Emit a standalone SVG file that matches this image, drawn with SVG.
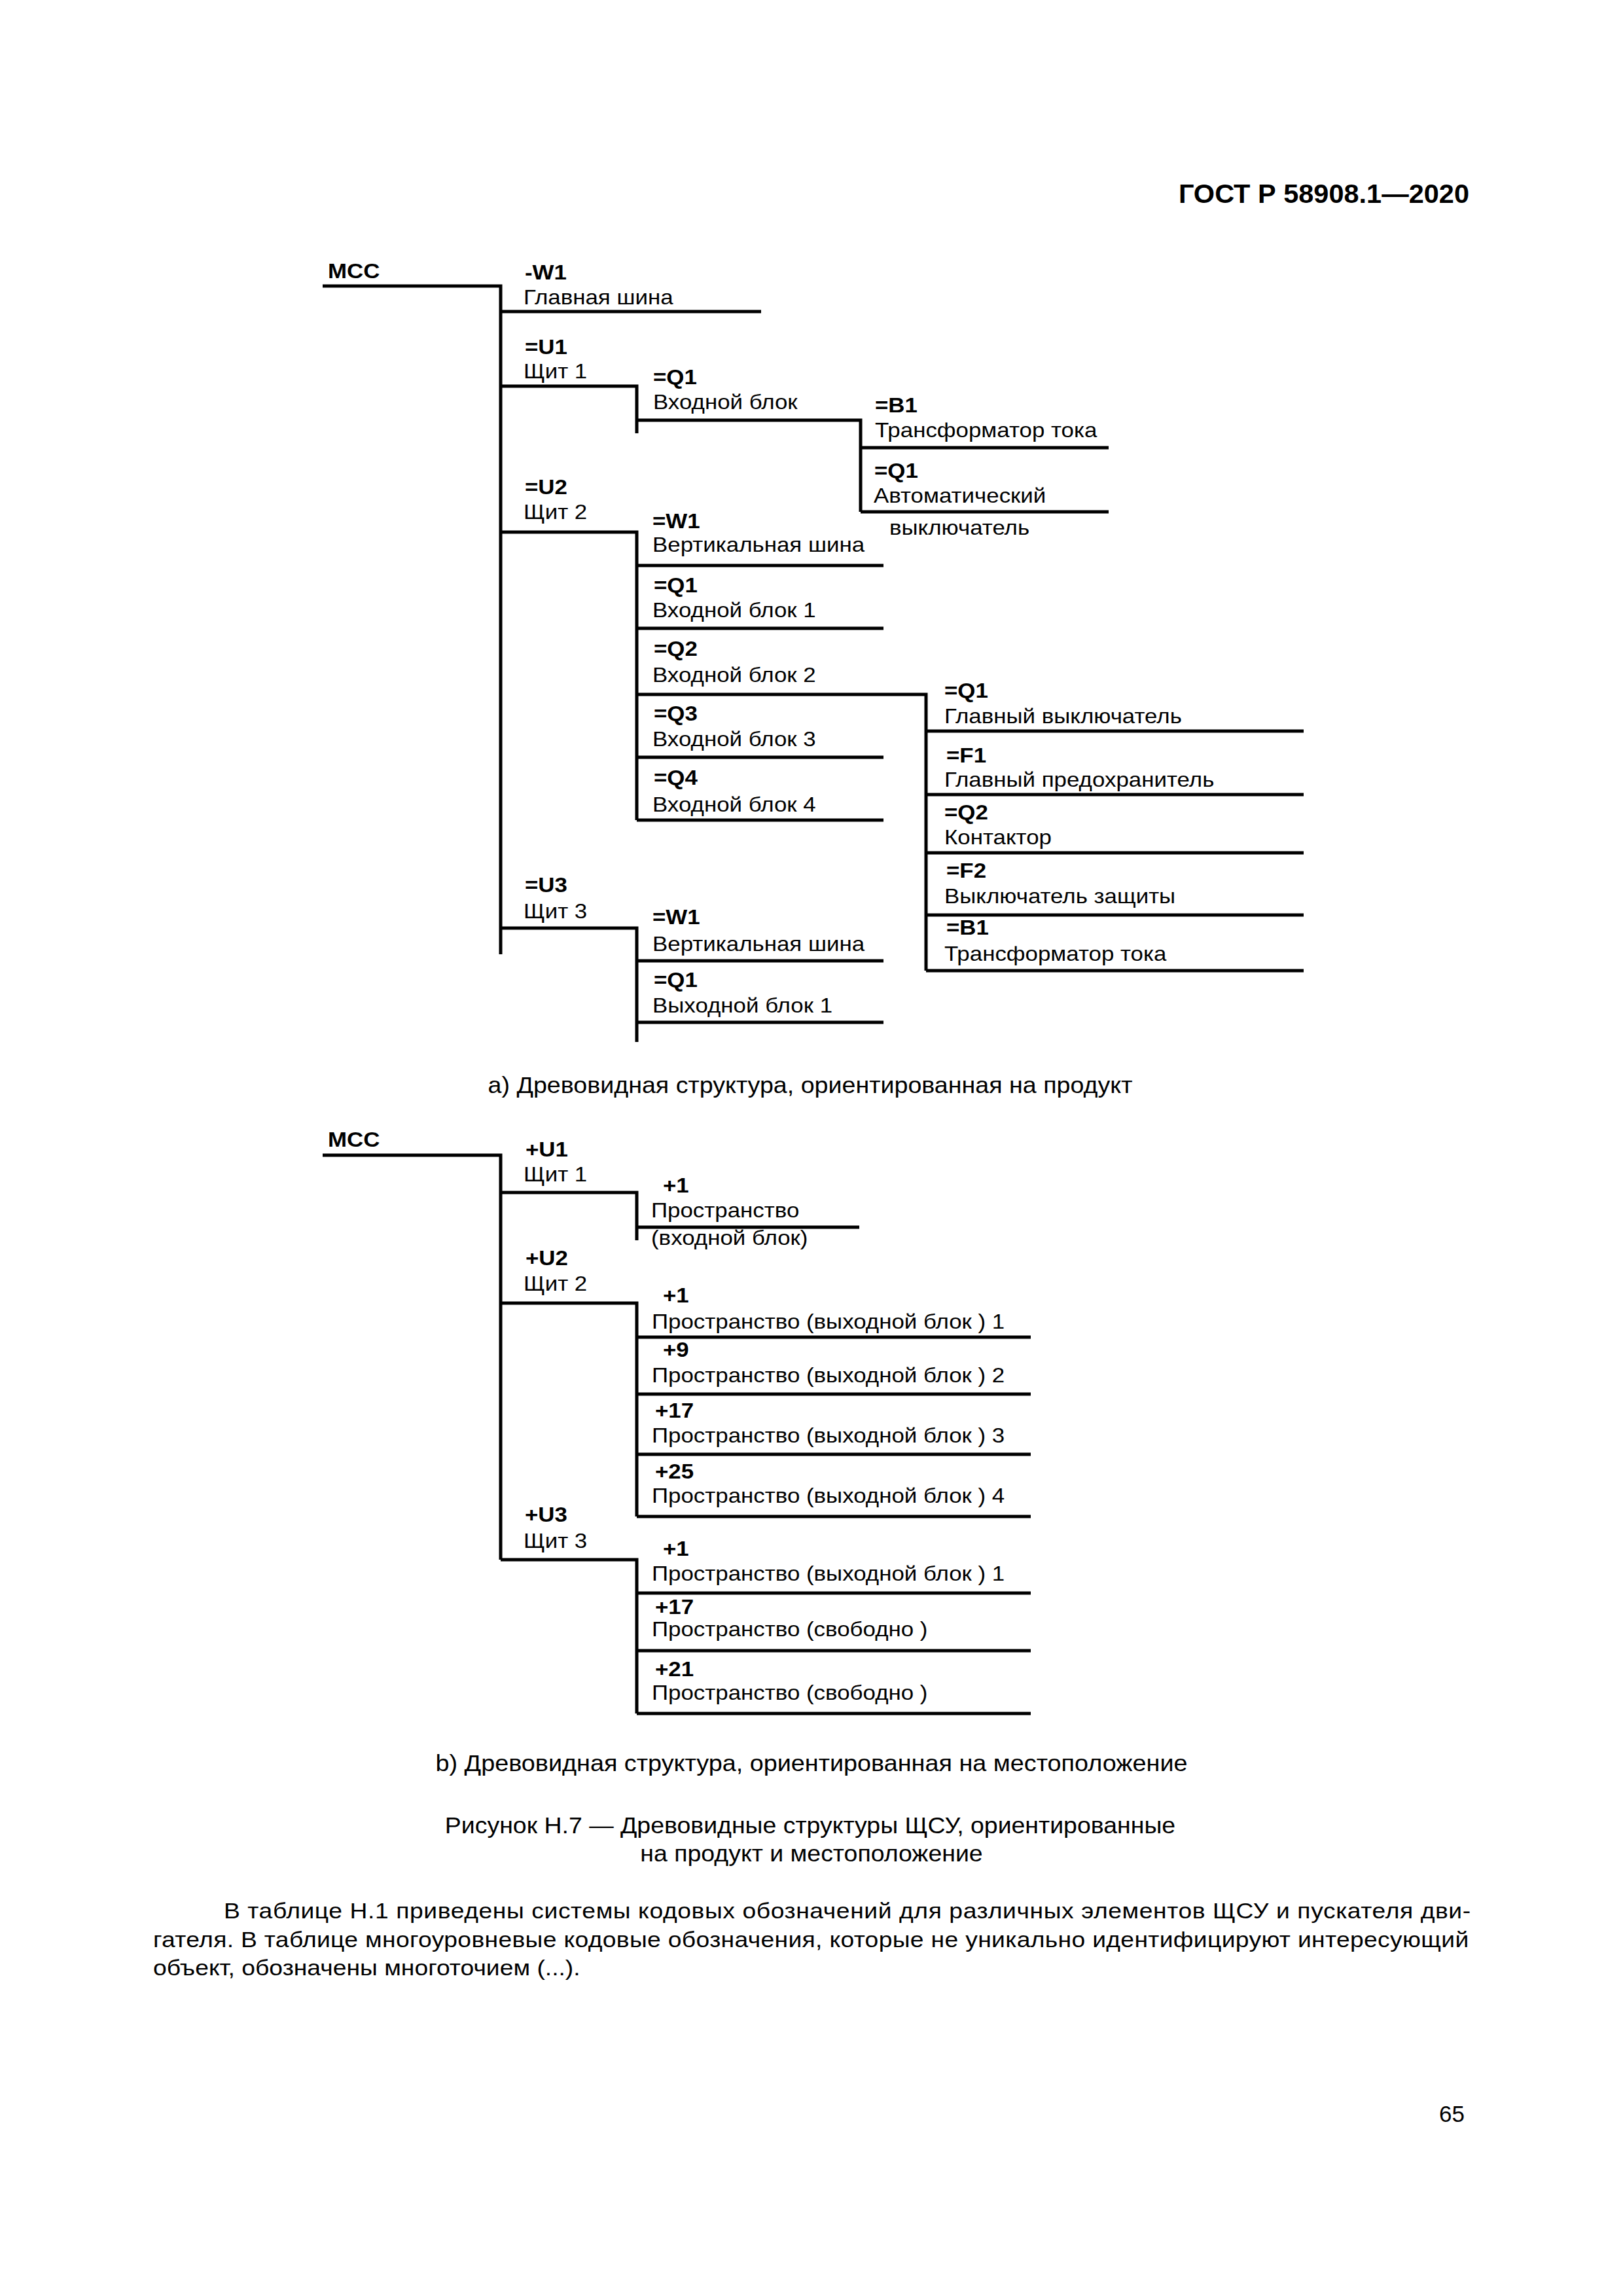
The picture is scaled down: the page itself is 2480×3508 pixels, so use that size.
<svg xmlns="http://www.w3.org/2000/svg" width="2480" height="3508" viewBox="0 0 2480 3508">
<style>
.ln{stroke:#000;stroke-width:5;fill:none;stroke-linejoin:miter;stroke-linecap:butt}
.b{font-family:"Liberation Sans",Arial,sans-serif;font-weight:bold;font-size:32px;fill:#000}
.r{font-family:"Liberation Sans",Arial,sans-serif;font-size:32px;fill:#000}
.cap{font-family:"Liberation Sans",Arial,sans-serif;font-size:35px;fill:#000;text-anchor:middle}
.par{font-family:"Liberation Sans",Arial,sans-serif;font-size:33px;fill:#000}
.hdr{font-family:"Liberation Sans",Arial,sans-serif;font-weight:bold;font-size:41.5px;fill:#000;text-anchor:end}
.pg{font-family:"Liberation Sans",Arial,sans-serif;font-size:35px;fill:#000;text-anchor:end}
</style>
<rect width="2480" height="3508" fill="#fff"/>
<text class="hdr" x="2245" y="310">ГОСТ Р 58908.1—2020</text>

<g id="connectors">
<!-- a) -->
<path class="ln" d="M493 437 H765 V1458"/>
<path class="ln" d="M765 476 H1163"/>
<path class="ln" d="M765 590 H973 V662"/>
<path class="ln" d="M973 642 H1315 V782"/>
<path class="ln" d="M1315 684 H1694"/>
<path class="ln" d="M1315 782 H1694"/>
<path class="ln" d="M765 813 H973 V1253"/>
<path class="ln" d="M973 864 H1350"/>
<path class="ln" d="M973 960 H1350"/>
<path class="ln" d="M973 1061 H1415 V1483"/>
<path class="ln" d="M973 1157 H1350"/>
<path class="ln" d="M973 1253 H1350"/>
<path class="ln" d="M1415 1117 H1992"/>
<path class="ln" d="M1415 1214 H1992"/>
<path class="ln" d="M1415 1303 H1992"/>
<path class="ln" d="M1415 1398 H1992"/>
<path class="ln" d="M1415 1483 H1992"/>
<path class="ln" d="M765 1418 H973 V1592"/>
<path class="ln" d="M973 1468 H1350"/>
<path class="ln" d="M973 1562 H1350"/>
<!-- b) -->
<path class="ln" d="M493 1765 H765 V2383"/>
<path class="ln" d="M765 1822 H973 V1895"/>
<path class="ln" d="M973 1875 H1313"/>
<path class="ln" d="M765 1991 H973 V2317"/>
<path class="ln" d="M973 2043 H1575"/>
<path class="ln" d="M973 2130 H1575"/>
<path class="ln" d="M973 2222 H1575"/>
<path class="ln" d="M973 2317 H1575"/>
<path class="ln" d="M765 2383 H973 V2618"/>
<path class="ln" d="M973 2434 H1575"/>
<path class="ln" d="M973 2522 H1575"/>
<path class="ln" d="M973 2618 H1575"/>
</g>

<!-- a) product-oriented tree -->
<g id="a-mcc"><text class="b" transform="translate(501 425) scale(1.09 1)">MCC</text></g>
<g id="a-w1"><text class="b" transform="translate(802 427) scale(1.09 1)">-W1</text><text class="r" transform="translate(800 465) scale(1.09 1)">Главная шина</text></g>
<g id="a-u1"><text class="b" transform="translate(802 541) scale(1.09 1)">=U1</text><text class="r" transform="translate(800 578) scale(1.09 1)">Щит 1</text></g>
<g id="a-u1-q1"><text class="b" transform="translate(998 587) scale(1.09 1)">=Q1</text><text class="r" transform="translate(998 625) scale(1.09 1)">Входной блок</text></g>
<g id="a-u1-q1-b1"><text class="b" transform="translate(1337 630) scale(1.09 1)">=B1</text><text class="r" transform="translate(1337 668) scale(1.09 1)">Трансформатор тока</text></g>
<g id="a-u1-q1-q1"><text class="b" transform="translate(1336 730) scale(1.09 1)">=Q1</text><text class="r" transform="translate(1335 768) scale(1.09 1)">Автоматический</text><text class="r" transform="translate(1359 817) scale(1.09 1)">выключатель</text></g>
<g id="a-u2"><text class="b" transform="translate(802 755) scale(1.09 1)">=U2</text><text class="r" transform="translate(800 793) scale(1.09 1)">Щит 2</text></g>
<g id="a-u2-w1"><text class="b" transform="translate(997 807) scale(1.09 1)">=W1</text><text class="r" transform="translate(997 843) scale(1.09 1)">Вертикальная шина</text></g>
<g id="a-u2-q1"><text class="b" transform="translate(999 905) scale(1.09 1)">=Q1</text><text class="r" transform="translate(997 943) scale(1.09 1)">Входной блок 1</text></g>
<g id="a-u2-q2"><text class="b" transform="translate(999 1002) scale(1.09 1)">=Q2</text><text class="r" transform="translate(997 1042) scale(1.09 1)">Входной блок 2</text></g>
<g id="a-u2-q3"><text class="b" transform="translate(999 1101) scale(1.09 1)">=Q3</text><text class="r" transform="translate(997 1140) scale(1.09 1)">Входной блок 3</text></g>
<g id="a-u2-q4"><text class="b" transform="translate(999 1199) scale(1.09 1)">=Q4</text><text class="r" transform="translate(997 1240) scale(1.09 1)">Входной блок 4</text></g>
<g id="a-u2-q2-q1"><text class="b" transform="translate(1443 1066) scale(1.09 1)">=Q1</text><text class="r" transform="translate(1443 1105) scale(1.09 1)">Главный выключатель</text></g>
<g id="a-u2-q2-f1"><text class="b" transform="translate(1446 1165) scale(1.09 1)">=F1</text><text class="r" transform="translate(1443 1202) scale(1.09 1)">Главный предохранитель</text></g>
<g id="a-u2-q2-q2"><text class="b" transform="translate(1443 1252) scale(1.09 1)">=Q2</text><text class="r" transform="translate(1443 1290) scale(1.09 1)">Контактор</text></g>
<g id="a-u2-q2-f2"><text class="b" transform="translate(1446 1341) scale(1.09 1)">=F2</text><text class="r" transform="translate(1443 1380) scale(1.09 1)">Выключатель защиты</text></g>
<g id="a-u2-q2-b1"><text class="b" transform="translate(1446 1428) scale(1.09 1)">=B1</text><text class="r" transform="translate(1443 1468) scale(1.09 1)">Трансформатор тока</text></g>
<g id="a-u3"><text class="b" transform="translate(802 1363) scale(1.09 1)">=U3</text><text class="r" transform="translate(800 1403) scale(1.09 1)">Щит 3</text></g>
<g id="a-u3-w1"><text class="b" transform="translate(997 1412) scale(1.09 1)">=W1</text><text class="r" transform="translate(997 1453) scale(1.09 1)">Вертикальная шина</text></g>
<g id="a-u3-q1"><text class="b" transform="translate(999 1508) scale(1.09 1)">=Q1</text><text class="r" transform="translate(997 1547) scale(1.09 1)">Выходной блок 1</text></g>
<text class="cap" transform="translate(1238 1670) scale(1.075 1)">а) Древовидная структура, ориентированная на продукт</text>

<!-- b) location-oriented tree -->
<g id="b-mcc"><text class="b" transform="translate(501 1752) scale(1.09 1)">MCC</text></g>
<g id="b-u1"><text class="b" transform="translate(803 1767) scale(1.09 1)">+U1</text><text class="r" transform="translate(800 1805) scale(1.09 1)">Щит 1</text></g>
<g id="b-u1-1"><text class="b" transform="translate(1013 1822) scale(1.09 1)">+1</text><text class="r" transform="translate(995 1860) scale(1.09 1)">Пространство</text><text class="r" transform="translate(995 1902) scale(1.09 1)">(входной блок)</text></g>
<g id="b-u2"><text class="b" transform="translate(803 1933) scale(1.09 1)">+U2</text><text class="r" transform="translate(800 1972) scale(1.09 1)">Щит 2</text></g>
<g id="b-u2-1"><text class="b" transform="translate(1013 1990) scale(1.09 1)">+1</text><text class="r" transform="translate(996 2030) scale(1.09 1)">Пространство (выходной блок ) 1</text></g>
<g id="b-u2-9"><text class="b" transform="translate(1013 2073) scale(1.09 1)">+9</text><text class="r" transform="translate(996 2112) scale(1.09 1)">Пространство (выходной блок ) 2</text></g>
<g id="b-u2-17"><text class="b" transform="translate(1001 2166) scale(1.09 1)">+17</text><text class="r" transform="translate(996 2204) scale(1.09 1)">Пространство (выходной блок ) 3</text></g>
<g id="b-u2-25"><text class="b" transform="translate(1001 2259) scale(1.09 1)">+25</text><text class="r" transform="translate(996 2296) scale(1.09 1)">Пространство (выходной блок ) 4</text></g>
<g id="b-u3"><text class="b" transform="translate(802 2325) scale(1.09 1)">+U3</text><text class="r" transform="translate(800 2365) scale(1.09 1)">Щит 3</text></g>
<g id="b-u3-1"><text class="b" transform="translate(1013 2377) scale(1.09 1)">+1</text><text class="r" transform="translate(996 2415) scale(1.09 1)">Пространство (выходной блок ) 1</text></g>
<g id="b-u3-17"><text class="b" transform="translate(1001 2466) scale(1.09 1)">+17</text><text class="r" transform="translate(996 2500) scale(1.09 1)">Пространство (свободно )</text></g>
<g id="b-u3-21"><text class="b" transform="translate(1001 2561) scale(1.09 1)">+21</text><text class="r" transform="translate(996 2597) scale(1.09 1)">Пространство (свободно )</text></g>
<text class="cap" transform="translate(1240 2706) scale(1.08 1)">b) Древовидная структура, ориентированная на местоположение</text>

<text class="cap" transform="translate(1238 2801) scale(1.07 1)">Рисунок Н.7 — Древовидные структуры ЩСУ, ориентированные</text>
<text class="cap" transform="translate(1240 2844) scale(1.07 1)">на продукт и местоположение</text>

<text class="par" transform="translate(342 2931) scale(1.13 1)" textLength="1686" lengthAdjust="spacing">В таблице Н.1 приведены системы кодовых обозначений для различных элементов ЩСУ и пускателя дви-</text>
<text class="par" transform="translate(234 2975) scale(1.13 1)" textLength="1779" lengthAdjust="spacing">гателя. В таблице многоуровневые кодовые обозначения, которые не уникально идентифицируют интересующий</text>
<text class="par" transform="translate(234 3018) scale(1.13 1)">объект, обозначены многоточием (...).</text>

<text class="pg" x="2238" y="3242">65</text>
</svg>
